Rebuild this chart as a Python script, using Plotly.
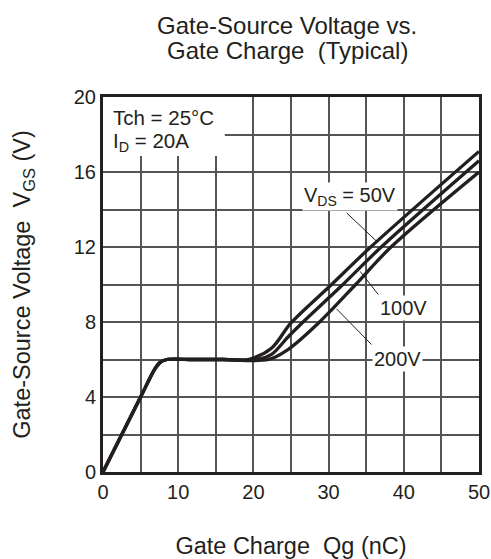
import plotly.graph_objects as go

# Gate charge (nC) and gate-source voltage (V) readings per drain-source voltage
qg_50v = [0, 5.0, 6.9, 7.6, 8.5, 12.0, 16.0, 19.3, 22.4, 25.0, 30.4, 35.6, 50.0]
vgs_50v = [0, 4.0, 5.5, 5.85, 6.0, 6.0, 6.0, 6.0, 6.6, 7.95, 10.0, 12.0, 17.1]

qg_100v = [0, 5.0, 6.9, 7.6, 8.5, 12.0, 16.0, 20.5, 22.4, 24.6, 26.6, 31.9, 37.0, 50.0]
vgs_100v = [0, 4.0, 5.5, 5.85, 6.0, 6.0, 6.0, 6.0, 6.27, 7.2, 8.0, 10.0, 12.0, 16.6]

qg_200v = [0, 5.0, 6.9, 7.6, 8.5, 12.0, 16.0, 22.0, 24.6, 28.8, 33.6, 38.3, 50.0]
vgs_200v = [0, 4.0, 5.5, 5.85, 6.0, 6.0, 6.0, 6.0, 6.53, 8.0, 10.0, 12.0, 16.0]

series_names = ["V<sub>DS</sub> = 50V", "100V", "200V"]
x_ticks = [0, 10, 20, 30, 40, 50]
y_ticks = [0, 4, 8, 12, 16, 20]
title_lines = ["Gate-Source Voltage vs.", "Gate Charge  (Typical)"]

INK = "#231f20"
GRID = "#555555"
FONT = "Liberation Sans, Arial, sans-serif"

fig = go.Figure()
for qs, vs, nm in [(qg_50v, vgs_50v, series_names[0]),
                   (qg_100v, vgs_100v, series_names[1]),
                   (qg_200v, vgs_200v, series_names[2])]:
    fig.add_trace(go.Scatter(x=qs, y=vs, mode="lines", name=nm,
                             line=dict(color=INK, width=3.3, shape="spline", smoothing=0.9),
                             showlegend=False, hoverinfo="skip"))

# white box behind the condition text (covers grid lines)
fig.add_shape(type="rect", xref="x", yref="y", x0=0, x1=16.2, y0=16.85, y1=20,
              fillcolor="white", line=dict(width=0), layer="between")

# leader lines
leaders = [
    (32.4, 13.82, 36.4, 12.3),
    (34.2, 10.70, 36.6, 9.47),
    (31.06, 8.70, 35.7, 6.8),
]
for x0, y0, x1, y1 in leaders:
    fig.add_shape(type="line", xref="x", yref="y", x0=x0, y0=y0, x1=x1, y1=y1,
                  line=dict(color=INK, width=1), layer="above")

annots = [
    dict(x=1.1, y=18.9, text="Tch = 25°C", xanchor="left", size=20.5),
    dict(x=1.1, y=17.6, text="I<sub>D</sub> = 20A", xanchor="left", size=20.5),
    dict(x=32.8, y=14.7, text=series_names[0], xanchor="center", bgcolor="white", size=20),
    dict(x=40.0, y=8.77, text=series_names[1], xanchor="center", bgcolor="white", size=20),
    dict(x=39.2, y=6.05, text=series_names[2], xanchor="center", bgcolor="white", size=20),
]
for a in annots:
    size = a.pop("size")
    fig.add_annotation(xref="x", yref="y", showarrow=False, yanchor="middle",
                       font=dict(family=FONT, size=size, color=INK), borderpad=1, **a)

# title, two lines (plot area spans 103..479 x, 97..472.5 y on screen)
for txt, ypix in zip(title_lines, [25, 50]):
    fig.add_annotation(xref="paper", yref="paper", x=(287 - 103) / 376,
                       y=(472.5 - ypix) / 375.5, text=txt, showarrow=False,
                       xanchor="center", yanchor="middle",
                       font=dict(family=FONT, size=24, color=INK))

axis_common = dict(showline=True, linecolor=INK, linewidth=3, mirror=True,
                   showgrid=True, gridcolor=GRID, gridwidth=1.5, zeroline=False,
                   automargin=False,
                   ticks="", tickfont=dict(family=FONT, size=20, color=INK))

fig.update_xaxes(range=[0, 50], tickvals=x_ticks,
                 minor=dict(dtick=5, showgrid=True, gridcolor=GRID, gridwidth=1.5),
                 title=dict(text="Gate Charge  Qg (nC)", standoff=38,
                            font=dict(family=FONT, size=23.5, color=INK)),
                 **axis_common)
fig.update_yaxes(range=[0, 20], tickvals=y_ticks,
                 minor=dict(dtick=2, showgrid=True, gridcolor=GRID, gridwidth=1.5),
                 title=dict(text="Gate-Source Voltage  V<sub>GS</sub> (V)", standoff=37,
                            font=dict(family=FONT, size=23.5, color=INK)),
                 **axis_common)

fig.update_layout(
    width=491, height=559,
    margin=dict(l=103, r=12, t=97, b=86.5),
    paper_bgcolor="white", plot_bgcolor="white",
)

# remove the default page margin so the figure fills the window exactly
fig.write_html("out.html", config={"displayModeBar": False},
               post_script="document.body.style.margin='0';document.body.style.overflow='hidden';")
